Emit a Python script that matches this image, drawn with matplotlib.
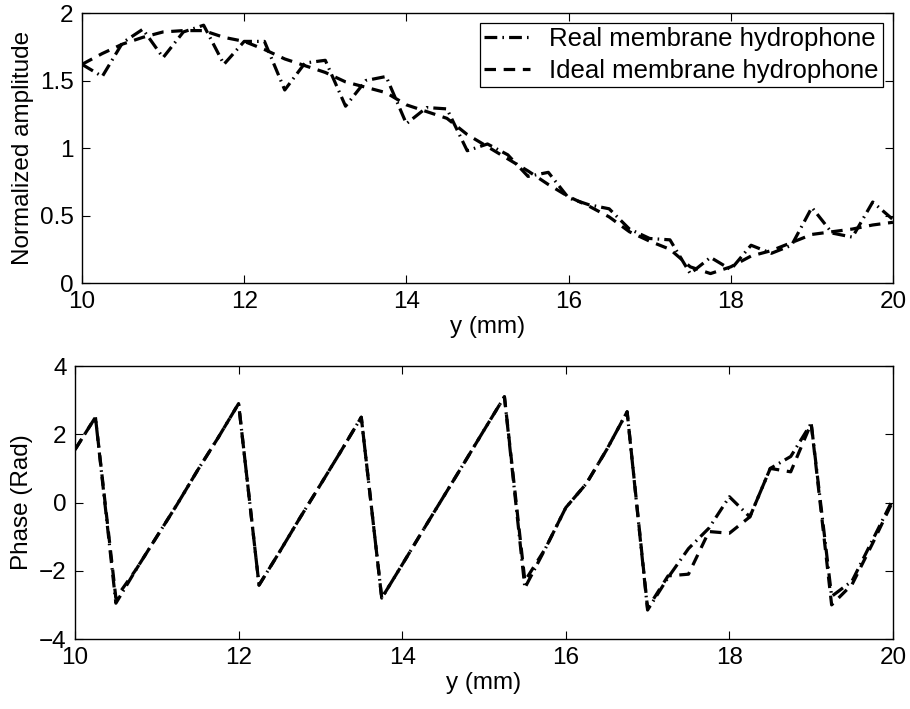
import numpy as np
import matplotlib.pyplot as plt

plt.rcParams['font.family'] = ['Liberation Sans', 'DejaVu Sans']
plt.rcParams['font.size'] = 17.5

# sample positions (mm)
y_mm = [10.00, 10.25, 10.50, 10.75, 11.00, 11.25, 11.50, 11.75, 12.00, 12.25,
        12.50, 12.75, 13.00, 13.25, 13.50, 13.75, 14.00, 14.25, 14.50, 14.75,
        15.00, 15.25, 15.50, 15.75, 16.00, 16.25, 16.50, 16.75, 17.00, 17.25,
        17.50, 17.75, 18.00, 18.25, 18.50, 18.75, 19.00, 19.25, 19.50, 19.75,
        20.00]

# normalized amplitude
real_amp = [1.62, 1.53, 1.78, 1.88, 1.67, 1.86, 1.91, 1.62, 1.79, 1.79,
            1.43, 1.63, 1.65, 1.31, 1.50, 1.53, 1.18, 1.30, 1.29, 0.98,
            1.03, 0.95, 0.79, 0.82, 0.63, 0.58, 0.55, 0.40, 0.33, 0.32,
            0.07, 0.19, 0.10, 0.28, 0.22, 0.28, 0.56, 0.37, 0.34, 0.60,
            0.47]
ideal_amp = [1.62, 1.70, 1.77, 1.82, 1.86, 1.87, 1.87, 1.82, 1.79, 1.73,
             1.66, 1.61, 1.56, 1.49, 1.45, 1.41, 1.32, 1.27, 1.22, 1.10,
             1.01, 0.92, 0.83, 0.73, 0.64, 0.57, 0.49, 0.38, 0.31, 0.25,
             0.12, 0.07, 0.12, 0.20, 0.24, 0.30, 0.36, 0.38, 0.40, 0.43,
             0.45]

# phase (rad)
real_phase = [1.55, 2.50, -2.95, -1.95, -1.00, -0.05, 0.95, 1.90, 2.90, -2.42,
              -1.45, -0.45, 0.52, 1.50, 2.50, -2.80, -1.82, -0.83, 0.15, 1.13,
              2.12, 3.10, -2.50, -1.35, -0.15, 0.55, 1.55, 2.66, -3.15, -2.20,
              -1.35, -0.75, 0.17, -0.42, 1.00, 1.35, 2.32, -2.75, -2.30, -1.10,
              0.10]
ideal_phase = [1.55, 2.50, -2.80, -1.95, -1.00, -0.05, 0.95, 1.90, 2.90, -2.42,
               -1.45, -0.45, 0.52, 1.50, 2.50, -2.80, -1.82, -0.83, 0.15, 1.13,
               2.12, 3.10, -2.30, -1.35, -0.15, 0.55, 1.55, 2.66, -3.10, -2.15,
               -2.10, -0.85, -0.90, -0.42, 1.00, 0.90, 2.32, -3.00, -2.40, -1.20,
               0.05]

LW = 2.3
DASHDOT = (0, (4.0, 1.6, 0.5, 1.6))
DASHED = (0, (3.6, 2.4))


def style_axes(ax):
    ax.tick_params(direction='in', length=6, width=0.8, top=True, right=True,
                   labelsize=17.5, pad=6)
    for s in ax.spines.values():
        s.set_linewidth(1.0)
        s.set_color('black')


fig = plt.figure(figsize=(9.1, 7.09), dpi=100)

# top: amplitude
ax1 = fig.add_axes([0.0901, 0.6008, 0.8912, 0.3808])
ax1.plot(y_mm, real_amp, color='black', linewidth=LW, linestyle=DASHDOT,
         label='Real membrane hydrophone')
ax1.plot(y_mm, ideal_amp, color='black', linewidth=LW, linestyle=DASHED,
         label='Ideal membrane hydrophone')
ax1.set_xlim(10, 20)
ax1.set_ylim(0, 2)
ax1.set_xticks([10, 12, 14, 16, 18, 20])
ax1.set_yticks([0, 0.5, 1, 1.5, 2])
ax1.set_yticklabels(['0', '0.5', '1', '1.5', '2'])
ax1.set_xlabel('y (mm)', labelpad=2)
ax1.set_ylabel('Normalized amplitude', labelpad=4)
style_axes(ax1)
leg = ax1.legend(loc='upper right', fontsize=18.5, fancybox=False, framealpha=1,
                 edgecolor='black', borderaxespad=0.4, handlelength=1.8,
                 borderpad=0.15, labelspacing=0.3, handletextpad=0.75)
leg.get_frame().set_linewidth(0.9)

# bottom: phase
ax2 = fig.add_axes([0.0824, 0.0987, 0.8989, 0.3850])
ax2.plot(y_mm, real_phase, color='black', linewidth=LW, linestyle=DASHDOT)
ax2.plot(y_mm, ideal_phase, color='black', linewidth=LW, linestyle=DASHED)
ax2.set_xlim(10, 20)
ax2.set_ylim(-4, 4)
ax2.set_xticks([10, 12, 14, 16, 18, 20])
ax2.set_yticks([-4, -2, 0, 2, 4])
ax2.set_xlabel('y (mm)', labelpad=2)
ax2.set_ylabel('Phase (Rad)', labelpad=4)
style_axes(ax2)

fig.savefig('out.png', dpi=100)
